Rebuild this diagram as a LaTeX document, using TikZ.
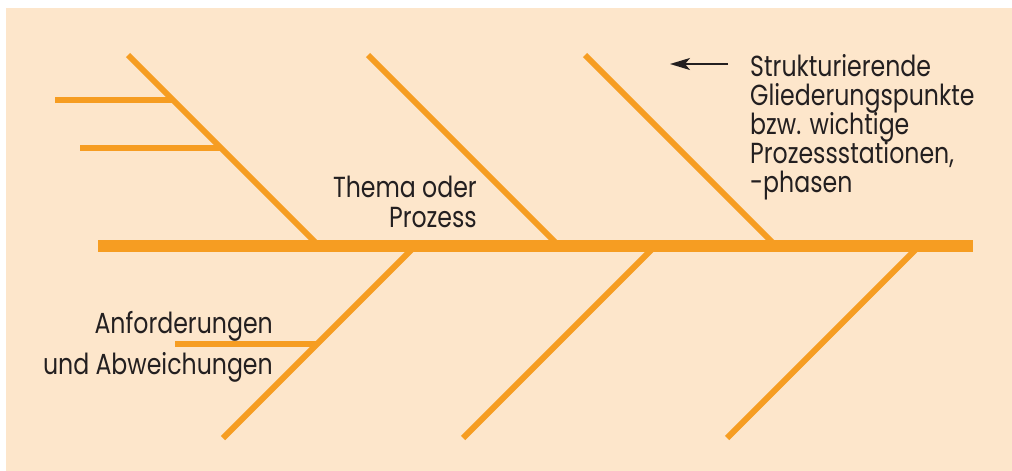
\documentclass[tikz,border=0pt]{standalone}
\usepackage{fontspec}
\setmainfont{Poppins}[FakeStretch=0.815]
\usetikzlibrary{arrows.meta}
\definecolor{bg}{HTML}{FDE6CB}
\definecolor{bone}{HTML}{F69D22}
\definecolor{ink}{HTML}{231F20}
\begin{document}
\begin{tikzpicture}[x=1pt,y=-1pt,
  spine/.style={draw=bone,line width=12pt},
  bonestyle/.style={draw=bone,line width=6pt},
  lbl/.style={inner sep=0pt,text=ink,font=\fontsize{29}{29}\selectfont,anchor=base west},
  lblr/.style={inner sep=0pt,text=ink,font=\fontsize{29}{29}\selectfont,anchor=base east}]
\useasboundingbox (0,0) rectangle (1012,471);
\fill[white] (0,0) rectangle (1012,471);
\fill[bg] (6,8) rectangle (1012,471);
% coordinates
\coordinate (sL) at (98,246);
\coordinate (sR) at (973,246);
\coordinate (u1a) at (128,55);  \coordinate (u1b) at (319,246);
\coordinate (u2a) at (368,55);  \coordinate (u2b) at (559,246);
\coordinate (u3a) at (585,55);  \coordinate (u3b) at (776,246);
\coordinate (l1a) at (415,246); \coordinate (l1b) at (223,438);
\coordinate (l2a) at (655,246); \coordinate (l2b) at (463,438);
\coordinate (l3a) at (919,246); \coordinate (l3b) at (727,438);
\coordinate (h1a) at (55,100);  \coordinate (h1b) at (173,100);
\coordinate (h2a) at (80,148);  \coordinate (h2b) at (221,148);
\coordinate (h3a) at (175,344); \coordinate (h3b) at (317,344);
\draw[bonestyle] (u1a) -- (u1b);
\draw[bonestyle] (u2a) -- (u2b);
\draw[bonestyle] (u3a) -- (u3b);
\draw[bonestyle] (l1a) -- (l1b);
\draw[bonestyle] (l2a) -- (l2b);
\draw[bonestyle] (l3a) -- (l3b);
\draw[bonestyle] (h1a) -- (h1b);
\draw[bonestyle] (h2a) -- (h2b);
\draw[bonestyle] (h3a) -- (h3b);
\draw[spine] (sL) -- (sR);
% texts
\node[lblr] (t1) at (477,197) {Thema oder};
\node[lblr] (t2) at (477,227) {Prozess};
\node[lblr] (a1) at (273,333) {Anforderungen};
\node[lblr] (a2) at (273,374) {und Abweichungen};
\node[lbl] (s1) at (750,76) {Strukturierende};
\node[lbl] (s2) at (750,105) {Gliederungspunkte};
\node[lbl] (s3) at (750,134) {bzw. wichtige};
\node[lbl] (s4) at (750,163) {Prozessstationen,};
\node[lbl] (s5) at (750,192) {-phasen};
\coordinate (arT) at (670,64);
\draw[ink,line width=2pt,-{Stealth[length=20pt,width=12pt,inset=5pt]}] ([xshift=-22pt]s1.west |- arT) -- (arT);
\end{tikzpicture}
\end{document}
